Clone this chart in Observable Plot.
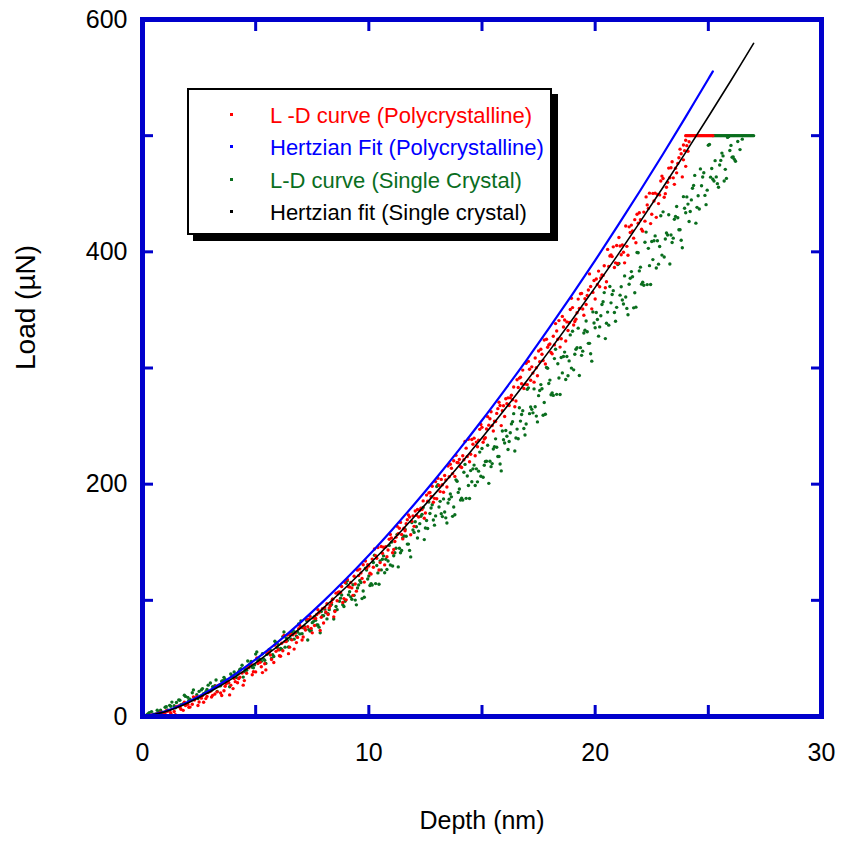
<!DOCTYPE html>
<html><head><meta charset="utf-8">
<script src="https://cdn.jsdelivr.net/npm/d3@7"></script>
<script src="https://cdn.jsdelivr.net/npm/@observablehq/plot@0.6"></script>
<style>
body{margin:0;background:#fff;}
#wrap{position:relative;width:842px;height:847px;font-family:"Liberation Sans",Arial,sans-serif;}
#legend{position:absolute;left:187px;top:88px;width:361px;height:143px;border:2px solid #000;box-shadow:6px 6px 0 #000;background:#fff;}
.row{position:absolute;left:81px;height:32px;font-size:22px;line-height:32px;white-space:nowrap;}
.dot{position:absolute;width:3px;height:3px;left:41px;}
</style>
</head><body>
<div id="wrap"></div>
<script>
// ---- data ----
const xLabelTicks = [0, 10, 20, 30];
const yLabelTicks = [0, 200, 400, 600];
const xMinorTicks = [5, 10, 15, 20, 25];
const yMinorTicks = [100, 200, 300, 400, 500];

const seriesNames = ["L -D curve (Polycrystalline)", "Hertzian Fit (Polycrystalline)", "L-D curve (Single Crystal)", "Hertzian fit (Single crystal)"];
const seriesColors = ["#ff0000", "#0000ff", "#0a6e1e", "#000000"];

// Hertzian fit, polycrystalline [depth nm, load uN]
const blueFit = [[0,0],[1,4.4],[2,12.4],[3,22.8],[4,35.1],[5,49.1],[6,64.5],[7,81.3],[8,99.3],[9,118.5],[10,138.8],[11,160.2],[12,182.5],[13,205.8],[14,230.0],[15,255.0],[16,281.0],[17,307.7],[18,335.3],[19,363.6],[20,392.6],[21,422.5],[22,453.0],[23,484.2],[24,516.2],[25,548.8],[25.2,555.3]];
// Hertzian fit, single crystal
const blackFit = [[0,0],[1,4.1],[2,11.7],[3,21.5],[4,33.0],[5,46.2],[6,60.7],[7,76.5],[8,93.5],[9,111.5],[10,130.6],[11,150.7],[12,171.7],[13,193.6],[14,216.3],[15,239.9],[16,264.3],[17,289.5],[18,315.4],[19,342.0],[20,369.4],[21,397.4],[22,426.2],[23,455.6],[24,485.6],[25,516.3],[26,547.5],[27,579.4]];

// L-D curve, polycrystalline
const redLD = [[0.2,0.1],[0.3,0.6],[0.4,1.4],[0.5,0.3],[0.6,1.8],[0.7,2.6],[0.8,3.8],[0.9,2.7],[1.0,3.3],[1.1,4.5],
[1.2,4.6],[1.3,0.8],[1.4,4.3],[1.5,8.5],[1.6,9.0],[1.7,6.2],[1.8,5.3],[1.9,9.5],[2.0,10.5],[2.1,8.1],
[2.2,10.6],[2.3,14.1],[2.4,17.0],[2.5,12.5],[2.6,15.8],[2.7,12.3],[2.8,15.4],[2.9,20.7],[3.0,21.7],[3.1,18.2],
[3.2,19.4],[3.3,21.2],[3.4,27.1],[3.5,18.1],[3.6,22.2],[3.7,28.2],[3.8,29.4],[3.9,27.0],[4.0,24.0],[4.1,30.0],
[4.2,29.0],[4.3,33.8],[4.4,37.5],[4.5,30.9],[4.6,37.2],[4.7,42.0],[4.8,45.2],[4.9,38.6],[5.0,38.4],[5.1,45.6],
[5.2,46.6],[5.3,37.8],[5.4,45.4],[5.5,55.0],[5.6,55.5],[5.7,49.1],[5.8,46.5],[5.9,56.1],[6.0,57.5],[6.1,51.9],
[6.2,56.6],[6.3,64.6],[6.4,70.1],[6.5,59.7],[6.6,66.0],[6.7,58.0],[6.8,63.6],[6.9,75.6],[7.0,76.5],[7.1,68.5],
[7.2,74.4],[7.3,77.2],[7.4,86.3],[7.5,72.0],[7.6,78.3],[7.7,87.8],[7.8,89.3],[7.9,85.5],[8.0,80.5],[8.1,90.0],
[8.2,87.8],[8.3,95.4],[8.4,100.9],[8.5,90.4],[8.6,99.7],[8.7,107.3],[8.8,111.9],[8.9,101.5],[9.0,100.4],[9.1,111.8],
[9.2,115.3],[9.3,104.3],[9.4,114.0],[9.5,126.0],[9.6,126.9],[9.7,118.9],[9.8,115.7],[9.9,127.7],[10.0,129.6],[10.1,122.6],
[10.2,128.5],[10.3,138.5],[10.4,145.5],[10.5,132.5],[10.6,140.5],[10.7,130.5],[10.8,137.6],[10.9,152.6],[11.0,153.7],[11.1,143.7],
[11.2,154.4],[11.3,157.3],[11.4,167.1],[11.5,152.9],[11.6,159.9],[11.7,169.4],[11.8,171.8],[11.9,168.0],[12.0,163.7],[12.1,173.2],
[12.2,171.8],[12.3,179.4],[12.4,185.6],[12.5,175.2],[12.6,185.3],[12.7,192.9],[12.8,198.2],[12.9,187.8],[13.0,187.5],[13.1,198.9],
[13.2,204.1],[13.3,193.1],[13.4,203.6],[13.5,215.6],[13.6,217.1],[13.7,209.1],[13.8,206.7],[13.9,218.7],[14.0,221.3],[14.1,214.3],
[14.2,221.0],[14.3,231.0],[14.4,238.7],[14.5,225.7],[14.6,234.4],[14.7,224.4],[14.8,232.2],[14.9,247.2],[15.0,248.9],[15.1,238.9],
[15.2,247.5],[15.3,250.8],[15.4,262.3],[15.5,245.8],[15.6,254.0],[15.7,265.0],[15.8,267.7],[15.9,263.3],[16.0,258.3],[16.1,269.3],
[16.2,267.7],[16.3,276.5],[16.4,283.7],[16.5,271.6],[16.6,283.2],[16.7,292.0],[16.8,298.2],[16.9,286.1],[17.0,285.7],[17.1,298.9],
[17.2,301.0],[17.3,287.8],[17.4,300.2],[17.5,314.6],[17.6,316.1],[17.7,306.5],[17.8,303.4],[17.9,317.8],[18.0,320.6],[18.1,312.2],
[18.2,319.9],[18.3,331.9],[18.4,340.8],[18.5,325.2],[18.6,335.3],[18.7,323.3],[18.8,332.3],[18.9,350.3],[19.0,352.0],[19.1,340.0],
[19.2,347.5],[19.3,351.2],[19.4,364.2],[19.5,345.4],[19.6,354.6],[19.7,367.1],[19.8,370.1],[19.9,365.1],[20.0,359.4],[20.1,371.9],
[20.2,370.0],[20.3,380.0],[20.4,388.0],[20.5,374.3],[20.6,387.4],[20.7,397.4],[20.8,404.3],[20.9,390.5],[21.0,390.0],[21.1,405.0],
[21.2,405.9],[21.3,390.5],[21.4,404.7],[21.5,421.5],[21.6,423.0],[21.7,411.8],[21.8,407.8],[21.9,424.6],[22.0,427.6],[22.1,417.8],
[22.2,426.4],[22.3,440.4],[22.4,450.5],[22.5,432.3],[22.6,443.7],[22.7,429.7],[22.8,441.5],[22.9,461.0],[23.0,463.1],[23.1,450.1],
[23.2,459.9],[23.3,463.8],[23.4,477.6],[23.5,458.1],[23.6,468.0],[23.7,481.0],[23.8,484.4],[23.9,479.2],[24.0,473.6],[24.1,486.6],
[23.9,492],[24.0,496],
[24.0,500],[24.05,500],[24.1,500],[24.15,500],[24.2,500],[24.25,500],[24.3,500],[24.35,500],[24.4,500],[24.45,500],[24.5,500],[24.55,500],
[24.6,500],[24.65,500],[24.7,500],[24.75,500],[24.8,500],[24.85,500],[24.9,500],[24.95,500],[25.0,500],[25.05,500],[25.1,500],[25.15,500],[25.2,500]];
const redLDb = [[0.25,0.4],[0.45,0.1],[0.65,2.4],[0.85,2.5],[1.05,4.9],[1.25,2.8],[1.45,1.5],[1.65,8.0],[1.85,12.3],[2.05,8.0],
[2.25,16.9],[2.45,9.5],[2.65,18.0],[2.85,17.3],[3.05,16.7],[3.25,26.0],[3.45,20.2],[3.65,26.1],[3.85,18.6],[4.05,32.7],
[4.25,32.6],[4.45,27.0],[4.65,42.3],[4.85,35.9],[5.05,50.4],[5.25,42.8],[5.45,40.1],[5.65,52.9],[5.85,61.4],[6.05,52.3],
[6.25,69.7],[6.45,54.1],[6.65,70.4],[6.85,68.1],[7.05,65.9],[7.25,83.8],[7.45,75.9],[7.65,84.3],[7.85,74.0],[8.05,93.7],
[8.25,93.5],[8.45,85.8],[8.65,106.9],[8.85,98.1],[9.05,118.0],[9.25,110.7],[9.45,107.9],[9.65,123.5],[9.85,133.8],[10.05,123.4],
[10.25,144.2],[10.45,126.1],[10.65,145.7],[10.85,143.3],[11.05,140.9],[11.25,163.8],[11.45,156.7],[11.65,165.9],[11.85,156.4],[12.05,176.9],
[12.25,177.5],[12.45,170.6],[12.65,192.5],[12.85,184.4],[13.05,205.1],[13.25,199.5],[13.45,197.5],[13.65,213.7],[13.85,224.8],[14.05,215.1],
[14.25,236.7],[14.45,219.3],[14.65,239.6],[14.85,237.9],[15.05,236.1],[15.25,258.1],[15.45,250.4],[15.65,260.9],[15.85,250.4],[16.05,273.5],
[16.25,274.3],[16.45,266.7],[16.65,291.3],[16.85,282.4],[17.05,305.7],[17.25,295.6],[17.45,293.3],[17.65,311.9],[17.85,324.7],[18.05,313.4],
[18.25,338.2],[18.45,318.0],[18.65,341.3],[18.85,339.2],[19.05,337.0],[19.25,359.3],[19.45,350.8],[19.65,362.4],[19.85,350.9],[20.05,376.6],
[20.25,377.5],[20.45,369.1],[20.65,396.4],[20.85,386.5],[21.05,412.4],[21.25,399.7],[21.45,397.0],[21.65,418.0],[21.85,432.3],[22.05,419.4],
[22.25,447.3],[22.45,424.3],[22.65,450.5],[22.85,449.0],[23.05,447.0],[23.25,472.1],[23.45,463.7],[23.65,476.1],[23.85,464.5],[24.05,491.4]];
const redLDc = [[6.15,63.0],[6.35,64.6],[6.55,70.7],[6.75,71.8],[6.95,78.3],[7.15,76.5],[7.35,83.5],[7.55,84.7],[7.75,92.0],[7.95,92.8],
[8.15,97.0],[8.35,98.2],[8.55,106.2],[8.75,106.8],[8.95,115.3],[9.15,111.5],[9.35,120.7],[9.55,121.3],[9.75,130.6],[9.95,130.7],
[10.15,135.5],[10.35,136.2],[10.55,146.3],[10.75,146.1],[10.95,156.7],[11.15,150.7],[11.35,162.1],[11.55,162.0],[11.75,173.5],[11.95,172.7],
[12.15,178.2],[12.35,178.2],[12.55,190.6],[12.75,189.4],[12.95,202.2],[13.15,193.6],[13.35,207.4],[13.55,206.4],[13.75,220.1],[13.95,218.4],
[14.15,224.5],[14.35,223.8],[14.55,238.5],[14.75,236.2],[14.95,251.4],[15.15,239.9],[15.35,256.3],[15.55,254.3],[15.75,270.5],[15.95,267.5],
[16.15,274.3],[16.35,272.7],[16.55,289.9],[16.75,286.4],[16.95,304.1],[17.15,289.5],[17.35,308.6],[17.55,305.4],[17.75,324.1],[17.95,319.9],
[18.15,327.3],[18.35,324.7],[18.55,344.4],[18.75,339.7],[18.95,360.0],[19.15,342.0],[19.35,363.9],[19.55,359.6],[19.75,381.0],[19.95,375.3],
[20.15,383.4],[20.35,379.7],[20.55,402.1],[20.75,395.9],[20.95,405.4],[21.15,397.5],[21.35,422.2],[21.55,416.6],[21.75,427.7],[21.95,433.6],
[22.15,434.2],[22.35,437.4],[22.55,450.3],[22.75,449.3],[22.95,465.2],[23.15,455.6],[23.35,472.4],[23.55,471.9],[23.75,488.4],[23.95,487.1],[24.15,494.7]];

// L-D curve, single crystal
const greenLD = [[0.2,1.6],[0.3,3.2],[0.4,4.2],[0.5,2.0],[0.6,2.3],[0.7,3.9],[0.8,5.4],[0.9,3.2],[1.0,7.9],[1.1,5.7],
[1.2,9.6],[1.3,12.4],[1.4,9.2],[1.5,12.0],[1.6,14.3],[1.7,10.1],[1.8,11.0],[1.9,17.3],[2.0,16.5],[2.1,14.8],
[2.2,20.4],[2.3,15.5],[2.4,18.8],[2.5,21.6],[2.6,22.9],[2.7,19.7],[2.8,21.4],[2.9,27.0],[3.0,28.8],[3.1,25.6],
[3.2,26.6],[3.3,21.6],[3.4,26.4],[3.5,30.4],[3.6,33.7],[3.7,29.7],[3.8,29.1],[3.9,36.6],[4.0,35.0],[4.1,36.5],
[4.2,36.6],[4.3,40.6],[4.4,44.1],[4.5,38.6],[4.6,39.8],[4.7,43.8],[4.8,47.4],[4.9,41.9],[5.0,53.7],[5.1,48.2],
[5.2,48.8],[5.3,54.0],[5.4,48.4],[5.5,53.6],[5.6,57.8],[5.7,50.0],[5.8,51.7],[5.9,63.4],[6.0,61.9],[6.1,58.6],
[6.2,68.8],[6.3,59.7],[6.4,65.4],[6.5,70.6],[6.6,72.5],[6.7,66.6],[6.8,69.2],[6.9,79.6],[7.0,82.2],[7.1,76.3],
[7.2,74.8],[7.3,65.8],[7.4,73.6],[7.5,80.8],[7.6,86.0],[7.7,78.8],[7.8,76.9],[7.9,90.4],[8.0,86.7],[8.1,89.4],
[8.2,88.4],[8.3,95.6],[8.4,101.0],[8.5,91.1],[8.6,92.0],[8.7,99.2],[8.8,104.6],[8.9,94.7],[9.0,114.6],[9.1,104.7],
[9.2,103.0],[9.3,113.4],[9.4,100.2],[9.5,110.6],[9.6,117.1],[9.7,101.5],[9.8,102.7],[9.9,126.1],[10.0,120.9],[10.1,114.4],
[10.2,132.6],[10.3,114.4],[10.4,123.6],[10.5,134.0],[10.6,135.4],[10.7,123.7],[10.8,126.5],[10.9,147.3],[11.0,150.1],[11.1,138.4],
[11.2,144.8],[11.3,128.8],[11.4,141.0],[11.5,153.8],[11.6,161.2],[11.7,148.4],[11.8,143.0],[11.9,167.0],[12.0,158.5],[12.1,163.3],
[12.2,159.6],[12.3,172.4],[12.4,179.9],[12.5,162.3],[12.6,161.9],[12.7,174.7],[12.8,182.3],[12.9,164.7],[13.0,198.0],[13.1,180.4],
[13.2,174.5],[13.3,187.3],[13.4,171.0],[13.5,183.8],[13.6,191.5],[13.7,172.3],[13.8,173.7],[13.9,202.5],[14.0,195.9],[14.1,187.9],
[14.2,210.2],[14.3,187.8],[14.4,198.9],[14.5,211.7],[14.6,213.2],[14.7,198.8],[14.8,202.0],[14.9,227.6],[15.0,230.7],[15.1,216.3],
[15.2,219.7],[15.3,200.7],[15.4,215.1],[15.5,230.3],[15.6,239.0],[15.7,223.8],[15.8,217.3],[15.9,245.8],[16.0,235.5],[16.1,241.2],
[16.2,236.7],[16.3,251.9],[16.4,260.7],[16.5,239.8],[16.6,239.1],[16.7,254.3],[16.8,263.2],[16.9,242.3],[17.0,281.6],[17.1,260.7],
[17.2,264.4],[17.3,282.0],[17.4,258.6],[17.5,276.2],[17.6,285.7],[17.7,259.3],[17.8,260.2],[17.9,299.8],[18.0,289.6],[18.1,278.6],
[18.2,308.1],[18.3,277.3],[18.4,291.4],[18.5,309.0],[18.6,309.9],[18.7,290.1],[18.8,293.3],[18.9,328.5],[19.0,331.6],[19.1,311.8],
[19.2,317.5],[19.3,293.5],[19.4,310.9],[19.5,330.1],[19.6,340.4],[19.7,321.2],[19.8,312.3],[19.9,348.3],[20.0,334.6],[20.1,341.8],
[20.2,335.4],[20.3,354.6],[20.4,364.9],[20.5,338.5],[20.6,336.9],[20.7,356.1],[20.8,366.6],[20.9,340.2],[21.0,389.1],[21.1,362.7],
[21.2,358.5],[21.3,379.3],[21.4,351.3],[21.5,372.1],[21.6,383.0],[21.7,351.8],[21.8,352.4],[21.9,399.2],[22.0,386.8],[22.1,373.8],
[22.2,408.2],[22.3,371.8],[22.4,388.1],[22.5,408.9],[22.6,409.5],[22.7,386.1],[22.8,389.4],[22.9,431.0],[23.0,434.4],[23.1,411.0],
[23.2,414.5],[23.3,389.5],[23.4,408.0],[23.5,428.0],[23.6,439.0],[23.7,419.0],[23.8,410.0],[23.9,447.5],[24.0,433.6],[24.1,441.1],
[24.2,434.7],[24.3,454.7],[24.4,465.8],[24.5,438.3],[24.6,436.9],[24.7,456.9],[24.8,468.1],[24.9,440.6],[25.0,491.8],[25.1,464.3],
[25.2,462.5],[25.3,478.5],[25.4,458.7],[25.5,474.7],[25.6,485.0],[25.7,461.0],[25.8,463.2],[25.9,499.2],[26.0,491.6],[26.1,481.6],
[26.2,478],[26.3,495],[26.4,488],[26.5,497],
[25.2,500],[25.25,500],[25.3,500],[25.35,500],[25.4,500],[25.45,500],[25.5,500],[25.55,500],[25.6,500],[25.65,500],[25.7,500],[25.75,500],
[25.8,500],[25.85,500],[25.9,500],[25.95,500],[26.0,500],[26.05,500],[26.1,500],[26.15,500],[26.2,500],[26.25,500],[26.3,500],[26.35,500],
[26.4,500],[26.45,500],[26.5,500],[26.55,500],[26.6,500],[26.65,500],[26.7,500],[26.75,500],[26.8,500],[26.85,500],[26.9,500],[26.95,500],[27.0,500]];
const greenLDb = [[0.25,2.4],[0.45,0.3],[0.65,5.4],[0.85,3.5],[1.05,8.5],[1.25,8.8],[1.45,7.5],[1.65,14.0],[1.85,18.3],[2.05,14.0],
[2.25,22.9],[2.45,15.5],[2.65,24.0],[2.85,23.3],[3.05,22.7],[3.25,31.4],[3.45,26.5],[3.65,32.0],[3.85,25.6],[4.05,38.4],
[4.25,38.6],[4.45,33.9],[4.65,47.8],[4.85,42.4],[5.05,55.6],[5.25,47.6],[5.45,45.7],[5.65,57.1],[5.85,64.8],[6.05,57.4],
[6.25,72.8],[6.45,59.8],[6.65,74.3],[6.85,72.8],[7.05,71.3],[7.25,82.6],[7.45,74.2],[7.65,82.8],[7.85,72.0],[8.05,92.4],
[8.25,92.0],[8.45,83.9],[8.65,105.7],[8.85,96.3],[9.05,116.9],[9.25,100.9],[9.45,96.1],[9.65,115.3],[9.85,127.6],[10.05,112.8],
[10.25,138.8],[10.45,113.9],[10.65,138.3],[10.85,133.9],[11.05,129.5],[11.25,156.8],[11.45,143.0],[11.65,155.2],[11.85,137.4],[12.05,167.7],
[12.25,166.0],[12.45,152.3],[12.65,184.7],[12.85,169.1],[13.05,199.6],[13.25,172.1],[13.45,166.6],[13.65,189.1],[13.85,203.7],[14.05,186.3],
[14.25,217.0],[14.45,187.7],[14.65,216.4],[14.85,211.2],[15.05,205.9],[15.25,233.5],[15.45,217.7],[15.65,231.8],[15.85,211.4],[16.05,246.2],
[16.25,244.3],[16.45,228.6],[16.65,265.8],[16.85,247.9],[17.05,282.9],[17.25,261.4],[17.45,253.6],[17.65,282.1],[17.85,300.4],[18.05,277.0],
[18.25,316.1],[18.45,277.2],[18.65,313.7],[18.85,306.1],[19.05,298.4],[19.25,334.3],[19.45,314.5],[19.65,331.2],[19.85,305.9],[20.05,347.8],
[20.25,345.0],[20.45,325.3],[20.65,370.1],[20.85,347.8],[21.05,389.9],[21.25,355.1],[21.45,345.9],[21.65,378.6],[21.85,399.4],[22.05,372.2],
[22.25,417.0],[22.45,371.9],[22.65,413.7],[22.85,404.6],[23.05,395.6],[23.25,431.9],[23.45,411.8],[23.65,429.4],[23.85,403.5],[24.05,447.3],
[24.25,444.7],[24.45,424.7],[24.65,471.4],[24.85,448.6],[25.05,492.5],[25.25,460.9],[25.45,455.6],[25.65,482.6],[25.85,498.5],[26.05,481.4]];
const greenLDc = [[3.35,26.6],[3.55,30.9],[3.75,29.7],[3.95,34.6],[4.15,33.5],[4.35,41.1],[4.55,40.6],[4.75,45.3],[4.95,44.4],[5.15,49.7],
[5.35,49.5],[5.55,54.9],[5.75,53.3],[5.95,59.5],[6.15,58.0],[6.35,67.5],[6.55,66.7],[6.75,72.5],[6.95,71.1],[7.15,77.6],
[7.35,74.8],[7.55,81.7],[7.75,78.8],[7.95,86.8],[8.15,84.0],[8.35,96.5],[8.55,94.7],[8.75,101.9],[8.95,99.2],[9.15,107.4],
[9.35,104.3],[9.55,113.2],[9.75,108.0],[9.95,118.3],[10.15,113.1],[10.35,130.0],[10.55,126.2],[10.75,135.4],[10.95,130.4],[11.15,141.0],
[11.35,144.8],[11.55,155.4],[11.75,148.4],[11.95,160.6],[12.15,153.7],[12.35,174.0],[12.55,168.7],[12.75,179.5],[12.95,172.7],[13.15,185.2],
[13.35,176.1],[13.55,187.0],[13.75,180.3],[13.95,192.9],[14.15,186.3],[14.35,207.0],[14.55,202.1],[14.75,213.2],[14.95,206.8],[15.15,219.5],
[15.35,219.7],[15.55,232.2],[15.75,223.8],[15.95,238.2],[16.15,229.8],[16.35,253.8],[16.55,247.4],[16.75,260.0],[16.95,251.8],[17.15,266.4],
[17.35,266.6],[17.55,280.6],[17.75,270.3],[17.95,286.6],[18.15,276.4],[18.35,303.7],[18.55,295.8],[18.75,309.9],[18.95,299.9],[19.15,316.2],
[19.35,317.5],[19.55,332.5],[19.75,321.2],[19.95,338.7],[20.15,327.4],[20.35,357.0],[20.55,348.1],[20.75,363.3],[20.95,352.2],[21.15,369.9],
[21.35,361.1],[21.55,377.3],[21.75,364.8],[21.95,383.6],[22.15,371.2],[22.35,403.0],[22.55,393.3],[22.75,409.5],[22.95,397.2],[23.15,416.2],
[23.35,414.5],[23.55,430.5],[23.75,419.0],[23.95,437.5],[24.15,426.1],[24.35,457.2],[24.55,448.3],[24.75,464.4],[24.95,453.1],[25.15,471.8],
[25.35,464.5],[25.55,478.7],[25.75,471.0],[25.95,487.2],[26.15,479.6]];

// ---- chart ----
const frameColor = "#0000cc";
const font = "Liberation Sans, Arial, sans-serif";
const dotR = 1.7;
const xy = {x: d => d[0], y: d => d[1], r: dotR, stroke: null};
const chart = Plot.plot({
  width: 842, height: 847,
  marginLeft: 142, marginRight: 21, marginTop: 19, marginBottom: 131,
  x: {domain: [0, 30]},
  y: {domain: [0, 600]},
  style: {fontFamily: font, background: "white", color: "black"},
  marks: [
    Plot.dot(greenLD, {...xy, fill: seriesColors[2]}),
    Plot.dot(greenLDb, {...xy, fill: seriesColors[2]}),
    Plot.dot(greenLDc, {...xy, fill: seriesColors[2]}),
    Plot.dot(redLD, {...xy, fill: seriesColors[0]}),
    Plot.dot(redLDb, {...xy, fill: seriesColors[0]}),
    Plot.dot(redLDc, {...xy, fill: seriesColors[0]}),
    Plot.line(blueFit, {x: d => d[0], y: d => d[1], stroke: seriesColors[1], strokeWidth: 2.2, curve: "catmull-rom"}),
    Plot.line(blackFit, {x: d => d[0], y: d => d[1], stroke: seriesColors[3], strokeWidth: 1.6, curve: "catmull-rom"}),
    // inward ticks on all four sides
    Plot.axisX({anchor: "bottom", ticks: xMinorTicks, tickSize: 11, dy: -11, tickFormat: () => "", stroke: frameColor, strokeWidth: 3, label: null}),
    Plot.axisX({anchor: "top", ticks: xMinorTicks, tickSize: 11, dy: 11, tickFormat: () => "", stroke: frameColor, strokeWidth: 3, label: null}),
    Plot.axisY({anchor: "left", ticks: yMinorTicks, tickSize: 11, dx: 11, tickFormat: () => "", stroke: frameColor, strokeWidth: 3, label: null}),
    Plot.axisY({anchor: "right", ticks: yMinorTicks, tickSize: 11, dx: -11, tickFormat: () => "", stroke: frameColor, strokeWidth: 3, label: null}),
    // tick labels
    Plot.axisX({anchor: "bottom", ticks: xLabelTicks, tickSize: 0, tickPadding: 27, fontSize: 25, label: null, tickFormat: d => d}),
    Plot.axisY({anchor: "left", ticks: yLabelTicks, tickSize: 0, tickPadding: 15, fontSize: 25, label: null, tickFormat: d => d}),
    // axis titles
    Plot.text(["Depth (nm)"], {frameAnchor: "bottom", dy: 112, fontSize: 25, text: d => d, fill: "black"}),
    Plot.text(["Load (µN)"], {frameAnchor: "left", dx: -116, dy: 2, rotate: -90, fontSize: 28, text: d => d, fill: "black"}),
    Plot.frame({stroke: frameColor, strokeWidth: 5})
  ]
});
const wrap = document.getElementById("wrap");
wrap.appendChild(chart);

// legend
const legend = document.createElement("div");
legend.id = "legend";
const rowTops = [10, 42, 74.5, 107];
seriesNames.forEach((name, i) => {
  const dot = document.createElement("div");
  dot.className = "dot";
  dot.style.top = (rowTops[i] + 13) + "px";
  dot.style.background = seriesColors[i];
  legend.appendChild(dot);
  const row = document.createElement("div");
  row.className = "row";
  row.style.top = rowTops[i] + "px";
  row.style.color = seriesColors[i];
  row.textContent = name;
  legend.appendChild(row);
});
wrap.appendChild(legend);
</script>
</body></html>
